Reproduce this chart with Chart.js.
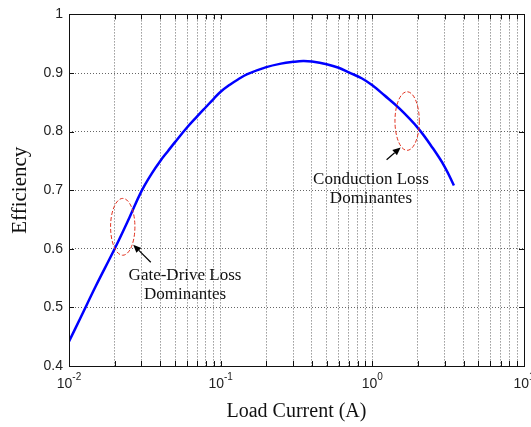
<!DOCTYPE html>
<html>
<head>
<meta charset="utf-8">
<script src="https://cdn.jsdelivr.net/npm/chart.js@4.4.0/dist/chart.umd.min.js"></script>
<style>
  html, body { margin: 0; padding: 0; background: #fff; }
  #wrap { width: 531px; height: 427px; position: relative; }
</style>
</head>
<body>
<div id="wrap"><canvas id="chart"></canvas></div>
<script>
// efficiency curve
const loadCurrent = [0.01, 0.012, 0.015, 0.02, 0.025, 0.03, 0.035, 0.04, 0.045, 0.05, 0.06, 0.07, 0.08,
    0.09, 0.1, 0.115, 0.13, 0.15, 0.2, 0.25, 0.3, 0.35, 0.4, 0.5, 0.6, 0.7, 0.85, 1.0, 1.2, 1.5,
    2.0, 2.5, 3.0, 3.45];
const efficiency = [0.442, 0.484, 0.536, 0.600, 0.653, 0.698, 0.728, 0.750, 0.767, 0.782, 0.807, 0.826, 0.842,
    0.856, 0.868, 0.880, 0.889, 0.898, 0.910, 0.916, 0.919, 0.9205, 0.9195, 0.915, 0.909, 0.901, 0.891, 0.879, 0.862, 0.840,
    0.806, 0.772, 0.740, 0.708];

// log axis: labelled decades plus the minor 2..9 lines
const decades = [0.01, 0.1, 1, 10];
const minorSteps = [1, 2, 3, 4, 5, 6, 7, 8, 9];
const yTickValues = [0.4, 0.5, 0.6, 0.7, 0.8, 0.9, 1];

// annotations, in data units
const ellipses = [
    { x0: 0.0188, x1: 0.0272, y0: 0.589, y1: 0.686 },
    { x0: 1.41, x1: 2.04, y0: 0.768, y1: 0.868 },
];
const arrows = [
    { from: [0.0346, 0.577], to: [0.0265, 0.607] },
    { from: [1.242, 0.752], to: [1.537, 0.773] },
];
const notes = [
    { x: 0.0582, y: [0.5463, 0.5145], lines: ["Gate-Drive Loss", "Dominantes"] },
    { x: 0.979, y: [0.711, 0.678], lines: ["Conduction Loss", "Dominantes"] },
];

const xTickValues = [];
decades.forEach((d, i) => {
    if (i === decades.length - 1) { xTickValues.push(d); return; }
    minorSteps.forEach(m => xTickValues.push(+(d * m).toPrecision(3)));
});

const serif = '"Liberation Serif", "Times New Roman", serif';
const sans = '"Liberation Sans", Arial, sans-serif';

const matlabFrame = {
    id: "matlabFrame",
    afterDraw(chart) {
        const ctx = chart.ctx;
        const { left, right, top, bottom } = chart.chartArea;
        const xs = chart.scales.x, ys = chart.scales.y;
        ctx.save();

        // box
        ctx.strokeStyle = "#111";
        ctx.lineWidth = 1;
        ctx.setLineDash([]);
        ctx.strokeRect(Math.round(left) + 0.5, Math.round(top) + 0.5,
            Math.round(right - left), Math.round(bottom - top));

        // inward tick marks
        ctx.beginPath();
        xTickValues.forEach(v => {
            const px = Math.round(xs.getPixelForValue(v)) + 0.5;
            ctx.moveTo(px, bottom); ctx.lineTo(px, bottom - 5);
            ctx.moveTo(px, top); ctx.lineTo(px, top + 5);
        });
        yTickValues.forEach(v => {
            const py = Math.round(ys.getPixelForValue(v)) + 0.5;
            ctx.moveTo(left, py); ctx.lineTo(left + 5, py);
            ctx.moveTo(right, py); ctx.lineTo(right - 5, py);
        });
        ctx.stroke();

        // decade labels 10^n
        ctx.fillStyle = "#222";
        ctx.textBaseline = "alphabetic";
        ctx.textAlign = "left";
        decades.forEach(d => {
            const px = xs.getPixelForValue(d);
            const exp = String(Math.round(Math.log10(d)));
            ctx.font = "14px " + sans;
            const wBase = ctx.measureText("10").width;
            ctx.font = "10px " + sans;
            const wExp = ctx.measureText(exp).width;
            const x0 = px - (wBase + wExp) / 2;
            ctx.font = "14px " + sans;
            ctx.fillText("10", x0, bottom + 22);
            ctx.font = "10px " + sans;
            ctx.fillText(exp, x0 + wBase, bottom + 14);
        });

        // dashed ellipses
        ctx.strokeStyle = "#e0301e";
        ctx.lineWidth = 1;
        ctx.setLineDash([4, 2]);
        ellipses.forEach(e => {
            const xl = xs.getPixelForValue(e.x0), xr = xs.getPixelForValue(e.x1);
            const yt = ys.getPixelForValue(e.y1), yb = ys.getPixelForValue(e.y0);
            ctx.beginPath();
            ctx.ellipse((xl + xr) / 2, (yt + yb) / 2, (xr - xl) / 2, (yb - yt) / 2, 0, 0, Math.PI * 2);
            ctx.stroke();
        });

        // arrows
        ctx.setLineDash([]);
        ctx.strokeStyle = "#000";
        ctx.fillStyle = "#000";
        ctx.lineWidth = 1.2;
        arrows.forEach(a => {
            const x1 = xs.getPixelForValue(a.from[0]), y1 = ys.getPixelForValue(a.from[1]);
            const x2 = xs.getPixelForValue(a.to[0]), y2 = ys.getPixelForValue(a.to[1]);
            const ang = Math.atan2(y2 - y1, x2 - x1);
            const hl = 8, hw = 3.5;
            const bx = x2 - hl * Math.cos(ang), by = y2 - hl * Math.sin(ang);
            ctx.beginPath();
            ctx.moveTo(x1, y1); ctx.lineTo(bx, by);
            ctx.stroke();
            ctx.beginPath();
            ctx.moveTo(x2, y2);
            ctx.lineTo(bx + hw * Math.sin(ang), by - hw * Math.cos(ang));
            ctx.lineTo(bx - hw * Math.sin(ang), by + hw * Math.cos(ang));
            ctx.closePath();
            ctx.fill();
        });

        // annotation text
        ctx.font = "17px " + serif;
        ctx.textAlign = "center";
        ctx.textBaseline = "alphabetic";
        ctx.fillStyle = "#111";
        notes.forEach(n => {
            const px = xs.getPixelForValue(n.x);
            n.lines.forEach((line, i) => ctx.fillText(line, px, ys.getPixelForValue(n.y[i])));
        });

        ctx.restore();
    }
};

new Chart(document.getElementById("chart"), {
    type: "line",
    data: {
        datasets: [{
            data: loadCurrent.map((x, i) => ({ x, y: efficiency[i] })),
            borderColor: "#0000ff",
            borderWidth: 2.5,
            pointRadius: 0,
            fill: false,
            tension: 0.4,
        }],
    },
    options: {
        responsive: true,
        maintainAspectRatio: false,
        animation: false,
        devicePixelRatio: 1,
        layout: { padding: { top: 7, right: 7, left: 0, bottom: 0 } },
        plugins: { legend: { display: false }, tooltip: { enabled: false } },
        scales: {
            x: {
                type: "logarithmic",
                min: 0.01,
                max: 10,
                afterBuildTicks: s => { s.ticks = xTickValues.map(v => ({ value: v })); },
                afterFit: s => { s.height = 61; },
                ticks: { display: false, autoSkip: false },
                grid: { color: "#666", lineWidth: 1, drawTicks: false },
                border: { display: false, dash: [1, 2] },
                title: {
                    display: true,
                    text: "Load Current (A)",
                    color: "#111",
                    font: { family: serif, size: 20 },
                    padding: { top: 0, bottom: 3 },
                },
            },
            y: {
                min: 0.4,
                max: 1,
                afterBuildTicks: s => { s.ticks = yTickValues.map(v => ({ value: v })); },
                afterFit: s => { s.width = 69; },
                ticks: {
                    color: "#222",
                    font: { family: sans, size: 14 },
                    padding: 6,
                    callback: v => (Math.abs(v - 1) < 1e-9 ? "1" : v.toFixed(1)),
                },
                grid: { color: "#666", lineWidth: 1, drawTicks: false },
                border: { display: false, dash: [1, 2] },
                title: {
                    display: true,
                    text: "Efficiency",
                    color: "#111",
                    font: { family: serif, size: 21 },
                    padding: { top: 8, bottom: 0 },
                },
            },
        },
    },
    plugins: [matlabFrame],
});
</script>
</body>
</html>
